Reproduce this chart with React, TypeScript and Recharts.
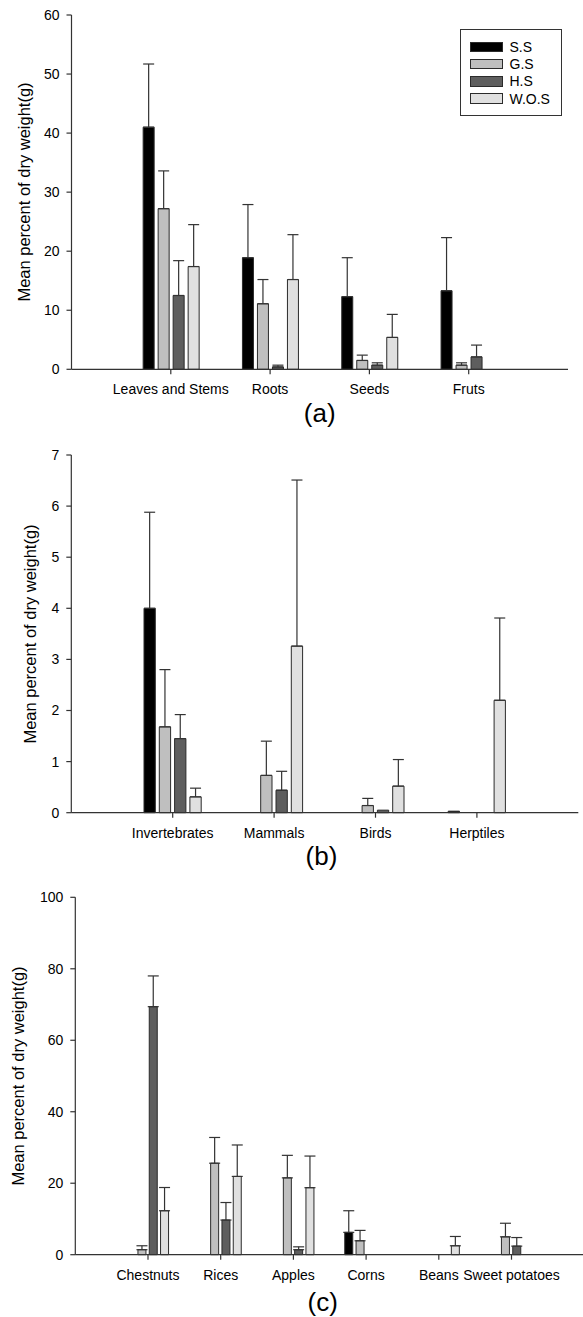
import React from 'react';
import { BarChart, Bar, XAxis, YAxis, ErrorBar, Legend } from 'recharts';

const FONT = '"Liberation Sans", Arial, Helvetica, sans-serif';

const SERIES_NAMES = ['S.S', 'G.S', 'H.S', 'W.O.S'];
const SERIES_KEYS = ['ss', 'gs', 'hs', 'wos'];
const SERIES_FILLS = ['#000000', '#bfbfbf', '#5e5e5e', '#e0e0e0'];

// ---- Panel (a): plant matter ----
const CAT_A = ['Leaves and Stems', 'Roots', 'Seeds', 'Fruts'];
const SS_A = [41.0, 18.9, 12.3, 13.3];
const SS_A_ERR = [10.7, 9.0, 6.6, 9.0];
const GS_A = [27.2, 11.1, 1.5, 0.7];
const GS_A_ERR = [6.4, 4.1, 0.9, 0.4];
const HS_A = [12.5, 0.4, 0.7, 2.1];
const HS_A_ERR = [5.9, 0.3, 0.4, 2.0];
const WOS_A = [17.4, 15.2, 5.4, 0];
const WOS_A_ERR = [7.1, 7.6, 3.9, null];
const TICKS_A = [0, 10, 20, 30, 40, 50, 60];

// ---- Panel (b): animal matter ----
const CAT_B = ['Invertebrates', 'Mammals', 'Birds', 'Herptiles'];
const SS_B = [4.0, 0, 0, 0.03];
const SS_B_ERR = [1.88, null, null, null];
const GS_B = [1.68, 0.73, 0.14, 0];
const GS_B_ERR = [1.12, 0.67, 0.14, null];
const HS_B = [1.45, 0.44, 0.05, 0];
const HS_B_ERR = [0.47, 0.37, null, null];
const WOS_B = [0.31, 3.26, 0.52, 2.2];
const WOS_B_ERR = [0.17, 3.25, 0.52, 1.61];
const TICKS_B = [0, 1, 2, 3, 4, 5, 6, 7];

// ---- Panel (c): crops ----
const CAT_C = ['Chestnuts', 'Rices', 'Apples', 'Corns', 'Beans', 'Sweet potatoes'];
const SS_C = [0, 0, 0, 6.25, 0, 0];
const SS_C_ERR = [null, null, null, 6.05, null, null];
const GS_C = [1.4, 25.6, 21.5, 3.9, 0, 5.0];
const GS_C_ERR = [1.1, 7.2, 6.3, 2.9, null, 3.8];
const HS_C = [69.4, 9.7, 1.4, 0, 0, 2.4];
const HS_C_ERR = [8.6, 4.9, 0.8, null, null, 2.4];
const WOS_C = [12.3, 21.9, 18.75, 0, 2.5, 0];
const WOS_C_ERR = [6.5, 8.8, 8.85, null, 2.6, null];
const TICKS_C = [0, 20, 40, 60, 80, 100];

function buildRows(cats: string[], vals: number[][], errs: (number | null)[][]) {
  return cats.map((name, i) => {
    const row: any = { name };
    SERIES_KEYS.forEach((k, s) => {
      row[k] = vals[s][i];
      const e = errs[s][i];
      row[k + 'Err'] = e == null ? null : [0, e];
    });
    return row;
  });
}

const ROWS_A = buildRows(CAT_A, [SS_A, GS_A, HS_A, WOS_A], [SS_A_ERR, GS_A_ERR, HS_A_ERR, WOS_A_ERR]);
const ROWS_B = buildRows(CAT_B, [SS_B, GS_B, HS_B, WOS_B], [SS_B_ERR, GS_B_ERR, HS_B_ERR, WOS_B_ERR]);
const ROWS_C = buildRows(CAT_C, [SS_C, GS_C, HS_C, WOS_C], [SS_C_ERR, GS_C_ERR, HS_C_ERR, WOS_C_ERR]);

const AXIS = '#333333';
const TICK_STYLE = { fill: '#000', fontSize: 14, fontFamily: FONT };

const renderLegend = () => (
  <div
    style={{
      width: 102,
      height: 87,
      boxSizing: 'border-box',
      border: `1px solid ${AXIS}`,
      background: '#fff',
      position: 'relative',
      fontFamily: FONT,
    }}
  >
    {SERIES_NAMES.map((n, i) => (
      <div
        key={n}
        style={{
          position: 'absolute',
          left: 9,
          top: 8 + i * 17.2,
          height: 18,
          display: 'flex',
          alignItems: 'center',
          whiteSpace: 'nowrap',
        }}
      >
        <div
          style={{
            width: 33,
            height: 10.5,
            boxSizing: 'border-box',
            background: SERIES_FILLS[i],
            border: '1px solid #2b2b2b',
          }}
        />
        <span style={{ marginLeft: 6.5, fontSize: 14, color: '#000', lineHeight: '18px' }}>{n}</span>
      </div>
    ))}
  </div>
);

type PanelProps = {
  rows: any[];
  width: number;
  height: number;
  margin: { top: number; right: number; bottom: number; left: number };
  yWidth: number;
  pad: number;
  domain: [number, number];
  ticks: number[];
  barSize: number;
  barGap: number;
  legend?: boolean;
};

function Panel(p: PanelProps) {
  return (
    <BarChart
      width={p.width}
      height={p.height}
      data={p.rows}
      margin={p.margin}
      barSize={p.barSize}
      barGap={p.barGap}
    >
      <XAxis
        dataKey="name"
        interval={0}
        height={30}
        padding={{ left: p.pad, right: p.pad }}
        tickSize={5}
        tickMargin={10}
        tick={TICK_STYLE}
        axisLine={{ stroke: AXIS, strokeWidth: 1.2 }}
        tickLine={{ stroke: AXIS, strokeWidth: 1.2 }}
      />
      <XAxis
        xAxisId="top"
        orientation="top"
        dataKey="name"
        height={0}
        padding={{ left: p.pad, right: p.pad }}
        tick={false}
        tickLine={false}
        axisLine={{ stroke: AXIS, strokeWidth: 1.2 }}
      />
      <YAxis
        type="number"
        domain={p.domain}
        ticks={p.ticks}
        interval={0}
        width={p.yWidth}
        tickSize={5}
        tickMargin={7}
        tick={TICK_STYLE}
        axisLine={{ stroke: AXIS, strokeWidth: 1.2 }}
        tickLine={{ stroke: AXIS, strokeWidth: 1.2 }}
      />
      <YAxis
        yAxisId="right"
        orientation="right"
        type="number"
        domain={[0, 1]}
        width={0}
        tick={false}
        tickLine={false}
        axisLine={{ stroke: AXIS, strokeWidth: 1.2 }}
      />
      {p.legend && (
        <Legend
          layout="vertical"
          align="center"
          verticalAlign="middle"
          content={renderLegend}
          wrapperStyle={{ position: 'absolute', left: 460, top: 29, width: 102, height: 87 }}
        />
      )}
      {SERIES_KEYS.map((k, i) => (
        <Bar
          key={k}
          dataKey={k}
          name={SERIES_NAMES[i]}
          fill={SERIES_FILLS[i]}
          stroke="#2b2b2b"
          strokeWidth={1}
          isAnimationActive={false}
        >
          <ErrorBar dataKey={k + 'Err'} direction="y" width={5.5} stroke="#333" strokeWidth={1.2} />
        </Bar>
      ))}
    </BarChart>
  );
}

const titleStyle = (cx: number, cy: number): React.CSSProperties => ({
  position: 'absolute',
  left: cx,
  top: cy,
  transform: 'translate(-50%, -50%) rotate(-90deg)',
  whiteSpace: 'nowrap',
  fontSize: 16.5,
  lineHeight: 1,
  fontFamily: FONT,
  color: '#000',
});

const panelLabelStyle = (cx: number, cy: number): React.CSSProperties => ({
  position: 'absolute',
  left: cx,
  top: cy,
  transform: 'translate(-50%, -50%)',
  whiteSpace: 'nowrap',
  fontSize: 26,
  lineHeight: 1,
  fontFamily: FONT,
  color: '#000',
});

const Y_TITLE = 'Mean percent of dry weight(g)';

export default function App() {
  return (
    <div
      style={{
        position: 'absolute',
        left: 0,
        top: 0,
        width: 583,
        height: 1317,
        overflow: 'hidden',
        background: '#fff',
        fontFamily: FONT,
      }}
    >
      <div style={{ position: 'absolute', left: 0, top: 0 }}>
        <Panel
          rows={ROWS_A}
          width={583}
          height={440}
          margin={{ top: 15, right: 15, bottom: 40.7, left: 0 }}
          yWidth={71.5}
          pad={49.65}
          domain={[0, 60]}
          ticks={TICKS_A}
          barSize={11}
          barGap={4}
          legend
        />
      </div>
      <div style={{ position: 'absolute', left: 0, top: 440 }}>
        <Panel
          rows={ROWS_B}
          width={583}
          height={420}
          margin={{ top: 15, right: 4.7, bottom: 17.3, left: 0 }}
          yWidth={71.3}
          pad={50.7}
          domain={[0, 7]}
          ticks={TICKS_B}
          barSize={11.3}
          barGap={4}
        />
      </div>
      <div style={{ position: 'absolute', left: 0, top: 860 }}>
        <Panel
          rows={ROWS_C}
          width={600}
          height={457}
          margin={{ top: 37.3, right: 15.8, bottom: 32.3, left: 0 }}
          yWidth={75.3}
          pad={36.35}
          domain={[0, 100]}
          ticks={TICKS_C}
          barSize={8}
          barGap={3.3}
        />
      </div>

      <div style={titleStyle(24.2, 192.2)}>{Y_TITLE}</div>
      <div style={titleStyle(29.7, 633.8)}>{Y_TITLE}</div>
      <div style={titleStyle(17.7, 1076)}>{Y_TITLE}</div>

      <div style={panelLabelStyle(319.7, 413.3)}>(a)</div>
      <div style={panelLabelStyle(321.5, 856.3)}>(b)</div>
      <div style={panelLabelStyle(322.7, 1302.3)}>(c)</div>
    </div>
  );
}
